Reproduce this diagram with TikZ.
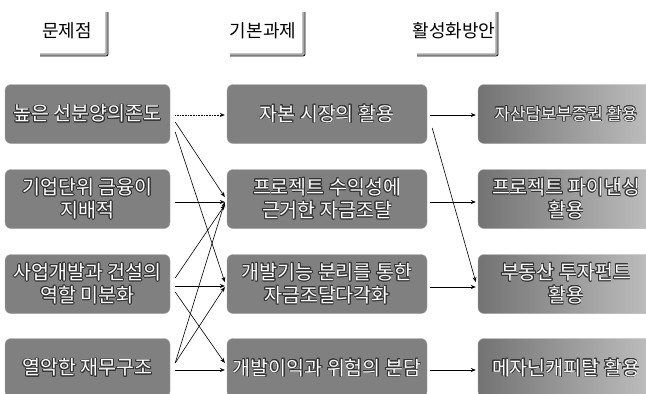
\documentclass[tikz,border=0pt]{standalone}
\usepackage{fontspec}
\setmainfont{Noto Sans CJK KR}
\usepackage{contour}
\contourlength{0.7pt}
\usetikzlibrary{calc,arrows.meta}
\newcommand{\wt}[1]{\contour{black!80}{\textcolor{white}{#1}}}
\tikzset{
  box/.style={rounded corners=6pt, minimum height=59pt, inner sep=0pt,
    font=\fontsize{19.5}{23}\selectfont, align=center, draw=gray!70, line width=0.4pt},
  darkbox/.style={box, fill=black!50},
  lightbox/.style={box, left color=black!55, right color=black!25},
  arr/.style={-{Stealth[length=5pt,width=4pt]}, line width=0.6pt},
  hdr/.style={font=\fontsize{18}{21}\selectfont},
  brk/.style={line width=2.2pt, black!35, rounded corners=2pt},
  brkline/.style={line width=0.8pt, black, rounded corners=2pt}
}
\begin{document}
\begin{tikzpicture}[x=1pt,y=-1pt]
\useasboundingbox (0,0) rectangle (646,394);
\clip (0,0) rectangle (646,394);
\fill[white] (0,0) rectangle (646,394);
% headers
\node[hdr] (h1) at (67,31) {문제점};
\node[hdr] (h2) at (263,31) {기본과제};
\node[hdr] (h3) at (454,31) {활성화방안};
\draw[brk] (40,54.5) -- (106.5,54.5) -- (106.5,12);
\draw[brkline] (40,56) -- (108,56) -- (108,12);
\draw[brk] (230,54.5) -- (303.5,54.5) -- (303.5,12);
\draw[brkline] (230,56) -- (305,56) -- (305,12);
\draw[brk] (417,54.5) -- (496.5,54.5) -- (496.5,12);
\draw[brkline] (417,56) -- (498,56) -- (498,12);
% left column
\node[darkbox, minimum width=165pt] (L1) at (87.5,114) {\wt{높은 선분양의존도}};
\node[darkbox, minimum width=165pt] (L2) at (87.5,199) {\wt{기업단위 금융이}\\\wt{지배적}};
\node[darkbox, minimum width=165pt] (L3) at (87.5,284) {\wt{사업개발과 건설의}\\\wt{역할 미분화}};
\node[darkbox, minimum width=165pt] (L4) at (87.5,368) {\wt{열악한 재무구조}};
% middle column
\node[darkbox, minimum width=200pt] (M1) at (327,114) {\wt{자본 시장의 활용}};
\node[darkbox, minimum width=200pt] (M2) at (327,199) {\wt{프로젝트 수익성에}\\\wt{근거한 자금조달}};
\node[darkbox, minimum width=200pt] (M3) at (327,284) {\wt{개발기능 분리를 통한}\\\wt{자금조달다각화}};
\node[darkbox, minimum width=200pt] (M4) at (327,368) {\wt{개발이익과 위험의 분담}};
% right column
\node[lightbox, minimum width=176pt, font=\fontsize{16.8}{22}\selectfont] (R1) at (566,114) {\wt{자산담보부증권 활용}};
\node[lightbox, minimum width=176pt] (R2) at (566,199) {\wt{프로젝트 파이낸싱}\\\wt{활용}};
\node[lightbox, minimum width=176pt] (R3) at (566,284) {\wt{부동산 투자펀드}\\\wt{활용}};
\node[lightbox, minimum width=176pt] (R4) at (566,368) {\wt{메자닌캐피탈 활용}};
% arrows left -> middle
\draw[arr, densely dotted] ($(L1.east)+(5,1)$) -- ($(M1.west)+(-2,1)$);
\draw[arr] ($(L1.east)+(5,8)$) -- ($(M2.west)+(-2,-2)$);
\draw[arr] ($(L1.east)+(5,18)$) -- ($(M3.west)+(-2,-2)$);
\draw[arr] ($(L2.east)+(5,3)$) -- ($(M2.west)+(-2,3)$);
\draw[arr] ($(L3.east)+(5,-6)$) -- ($(M2.west)+(-2,6)$);
\draw[arr] ($(L3.east)+(5,2)$) -- ($(M3.west)+(-2,2)$);
\draw[arr] ($(L3.east)+(5,8)$) -- ($(M4.west)+(-2,-5)$);
\draw[arr] ($(L4.east)+(5,-5)$) -- ($(M2.west)+(-2,3)$);
\draw[arr] ($(L4.east)+(5,-5)$) -- ($(M3.west)+(-2,3)$);
\draw[arr] ($(L4.east)+(5,2)$) -- ($(M4.west)+(-2,2)$);
% arrows middle -> right
\draw[arr] ($(M1.east)+(3,1)$) -- ($(R1.west)+(-2,1)$);
\draw[arr] ($(M1.east)+(5,14)$) -- ($(R3.west)+(-2,-2)$);
\draw[arr] ($(M2.east)+(3,3)$) -- ($(R2.west)+(-2,3)$);
\draw[arr] ($(M3.east)+(3,3)$) -- ($(R3.west)+(-2,3)$);
\draw[arr] ($(M4.east)+(3,2)$) -- ($(R4.west)+(-2,2)$);
\end{tikzpicture}
\end{document}
